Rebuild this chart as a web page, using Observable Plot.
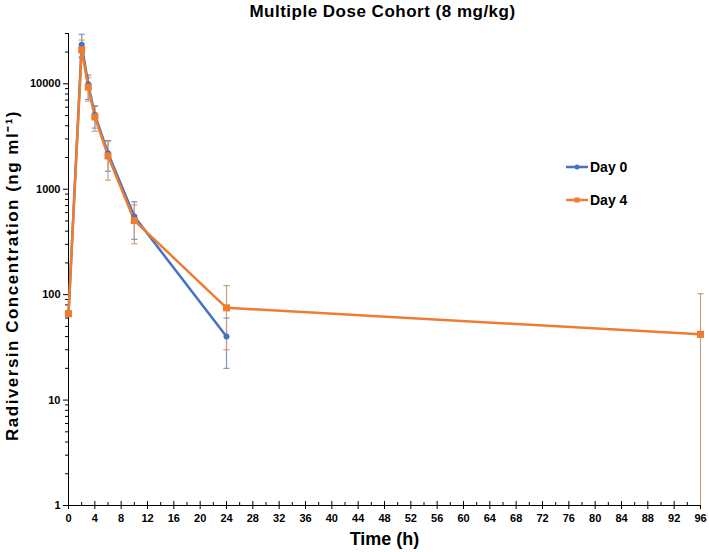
<!DOCTYPE html>
<html><head><meta charset="utf-8">
<script src="https://cdn.jsdelivr.net/npm/d3@7"></script>
<script src="https://cdn.jsdelivr.net/npm/@observablehq/plot@0.6"></script>
<style>
body{margin:0;background:#fff;font-family:"Liberation Sans",Arial,sans-serif;}
#wrap{position:relative;width:709px;height:552px;}
#legend{position:absolute;left:566px;top:150px;font:bold 14px "Liberation Sans",Arial,sans-serif;color:#000;}
#legend div{display:flex;align-items:center;height:33px;}
</style></head>
<body><div id="wrap"><div id="chart"></div><div id="legend"></div></div>
<script>
const title = "Multiple Dose Cohort (8 mg/kg)";
const yLabel = "Radiversin Concentration (ng ml⁻¹)";
const xLabel = "Time (h)";
const seriesNames = ["Day 0", "Day 4"];
const seriesColors = ["#4472C4", "#ED7D31"];
const errColors = ["#8497B8", "#C9A07A"];

const times0 = [0, 2, 3, 4, 6, 10, 24];
const day0   = [65, 23500, 9900, 5100, 2200, 550, 40];
const day0Hi = [null, 29500, 12100, 6200, 2900, 760, 60];
const day0Lo = [null, 18000, 7100, 3800, 1480, 335, 20];

const times4 = [0, 2, 3, 4, 6, 10, 24, 96];
const day4   = [66, 21000, 9300, 4850, 2070, 505, 75, 42];
const day4Hi = [null, 26000, 11400, 6100, 2850, 710, 122, 102];
const day4Lo = [null, 17500, 6850, 3550, 1220, 304, 30, 1];

const yMajor = [1, 10, 100, 1000, 10000];
const yMinor = [2,3,4,5,6,7,8,9,20,30,40,50,60,70,80,90,200,300,400,500,600,700,800,900,2000,3000,4000,5000,6000,7000,8000,9000,20000,30000];
const xMajor = d3.range(0, 97, 4);
const xMinor = d3.range(2, 96, 4);

const rows = [];
times0.forEach((t,i)=>rows.push({s:0,t,v:day0[i],hi:day0Hi[i],lo:day0Lo[i]}));
times4.forEach((t,i)=>rows.push({s:1,t,v:day4[i],hi:day4Hi[i],lo:day4Lo[i]}));
const errRows = rows.filter(d=>d.hi!=null);

const capSymbol = {draw(ctx, size){const w = Math.sqrt(size)/2; ctx.moveTo(-w,0); ctx.lineTo(w,0);}};
const font = "Liberation Sans, Arial, sans-serif";

const chart = Plot.plot({
  width: 709, height: 552,
  marginLeft: 68, marginRight: 9, marginTop: 33, marginBottom: 47,
  style: {fontFamily: font, background: "white"},
  x: {domain: [0, 96]},
  y: {type: "log", domain: [1, 30000]},
  marks: [
    Plot.axisY({ticks: yMinor, tickSize: 3, tickFormat: () => "", stroke:"#000", label: null}),
    Plot.axisY({ticks: yMajor, tickSize: 5, tickFormat: d => String(d), fontWeight: "bold", fontSize: 11, tickPadding: 3, stroke:"#000", fill:"#000", label: null}),
    Plot.axisX({ticks: xMinor, tickSize: -3, tickFormat: () => "", stroke:"#000", label: null}),
    Plot.axisX({ticks: xMajor, tickSize: -4, tickFormat: () => "", stroke:"#000", label: null}),
    Plot.axisX({ticks: xMajor, tickSize: 4, tickFormat: d => String(d), fontWeight: "bold", fontSize: 11, tickPadding: 5, stroke:"#000", fill:"#000", label: null}),
    Plot.ruleX([0], {stroke: "#000"}),
    Plot.ruleY([1], {stroke: "#000"}),
    Plot.ruleX(errRows, {x: "t", y1: "lo", y2: "hi", stroke: d => errColors[d.s], strokeWidth: 1.2}),
    Plot.dot(errRows, {x: "t", y: "hi", symbol: capSymbol, r: 3.5, stroke: d => errColors[d.s], strokeWidth: 1.2, fill: "none"}),
    Plot.dot(errRows.filter(d=>d.lo>1), {x: "t", y: "lo", symbol: capSymbol, r: 3.5, stroke: d => errColors[d.s], strokeWidth: 1.2, fill: "none"}),
    Plot.line(rows, {x: "t", y: "v", z: "s", stroke: d => seriesColors[d.s], strokeWidth: 2.5}),
    Plot.dot(rows.filter(d=>d.s===0), {x: "t", y: "v", r: 3, fill: seriesColors[0], symbol: "circle"}),
    Plot.dot(rows.filter(d=>d.s===1), {x: "t", y: "v", r: 4, fill: seriesColors[1], symbol: "square"}),
    Plot.text([title], {frameAnchor: "top", dx: -2, dy: -29, text: d => d, fontSize: 17, fontWeight: "bold", fill: "#000"}),
    Plot.text([xLabel], {frameAnchor: "bottom", dy: 39, text: d => d, fontSize: 18, fontWeight: "bold", fill: "#000"}),
    Plot.text([yLabel], {frameAnchor: "left", textAnchor: "middle", dx: -56, dy: 6, rotate: -90, text: d => d, fontSize: 17, fontWeight: "bold", fill: "#000"})
  ]
});
d3.select(chart).selectAll("text").each(function(){
  const t = this.textContent;
  if (t === yLabel) d3.select(this).attr("letter-spacing", "1.5px");
  if (t === title) d3.select(this).attr("letter-spacing", "0.5px");
});
document.getElementById("chart").appendChild(chart);

const legend = document.getElementById("legend");
seriesNames.forEach((n,i)=>{
  const row = document.createElement("div");
  const mk = i===0 ? '<circle cx="11" cy="6" r="2.5" fill="'+seriesColors[i]+'"/>' : '<rect x="8.5" y="3.5" width="5" height="5" fill="'+seriesColors[i]+'"/>';
  row.innerHTML = '<svg width="24" height="12"><line x1="0" x2="22" y1="6" y2="6" stroke="'+seriesColors[i]+'" stroke-width="2.5"/>'+mk+'</svg><span>'+n+'</span>';
  legend.appendChild(row);
});
</script></body></html>
